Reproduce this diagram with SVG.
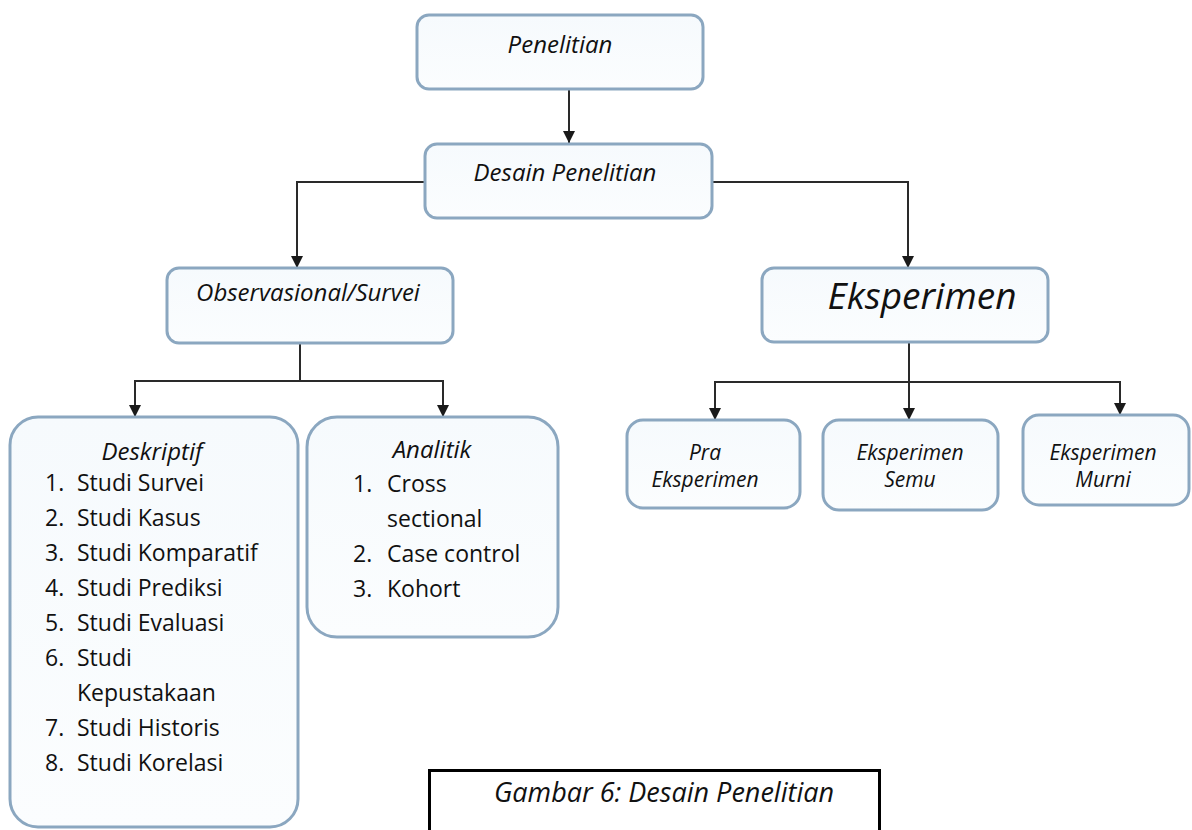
<svg xmlns="http://www.w3.org/2000/svg" width="1192" height="830" viewBox="0 0 1192 830">
<defs>
<marker id="arr" viewBox="0 0 12 12" refX="12" refY="6" markerWidth="12" markerHeight="12" markerUnits="userSpaceOnUse" orient="auto">
<path d="M0,0 L12,6 L0,12 Z" fill="#1a1a1a"/>
</marker>
<linearGradient id="fillg" x1="0" y1="0" x2="0" y2="1">
<stop offset="0" stop-color="#f6fafd"/>
<stop offset="1" stop-color="#fbfdfe"/>
</linearGradient>
</defs>
<style>
.box{fill:url(#fillg);stroke:#8ba7c0;stroke-width:3}
.lbl{font-family:"Open Sans","Liberation Sans",sans-serif;font-style:italic;fill:#111;text-anchor:middle}
.item{font-family:"Open Sans","Liberation Sans",sans-serif;font-size:23px;fill:#111}
.con{fill:none;stroke:#2a2a2a;stroke-width:2}
</style>
<rect width="1192" height="830" fill="#ffffff"/>
<g id="connectors">
<path class="con" d="M569,89 V143" marker-end="url(#arr)"/>
<path class="con" d="M425,182 H297 V268" marker-end="url(#arr)"/>
<path class="con" d="M712,182 H908 V268" marker-end="url(#arr)"/>
<path class="con" d="M300,343 V381"/>
<path class="con" d="M300,381 H135 V417" marker-end="url(#arr)"/>
<path class="con" d="M300,381 H443 V417" marker-end="url(#arr)"/>
<path class="con" d="M909,342 V420" marker-end="url(#arr)"/>
<path class="con" d="M909,382 H715 V420" marker-end="url(#arr)"/>
<path class="con" d="M909,382 H1120 V415" marker-end="url(#arr)"/>
</g>
<g id="penelitian">
<rect class="box" x="417" y="15" width="286" height="74" rx="12"/>
<text class="lbl" x="560" y="53" font-size="24">Penelitian</text>
</g>
<g id="desain">
<rect class="box" x="425" y="144" width="287" height="74" rx="12"/>
<text class="lbl" x="565" y="181" font-size="24">Desain Penelitian</text>
</g>
<g id="observasional">
<rect class="box" x="167" y="268" width="286" height="75" rx="12"/>
<text class="lbl" x="308" y="301" font-size="24">Observasional/Survei</text>
</g>
<g id="eksperimen">
<rect class="box" x="762" y="268" width="286" height="74" rx="12"/>
<text class="lbl" x="922" y="309" font-size="37">Eksperimen</text>
</g>
<g id="deskriptif">
<rect class="box" x="10" y="417" width="288" height="410" rx="28"/>
<text class="lbl" x="152" y="460" font-size="24">Deskriptif</text>
<g class="item">
<text x="45" y="491">1.</text><text x="77" y="491">Studi Survei</text>
<text x="45" y="526">2.</text><text x="77" y="526">Studi Kasus</text>
<text x="45" y="561">3.</text><text x="77" y="561">Studi Komparatif</text>
<text x="45" y="596">4.</text><text x="77" y="596">Studi Prediksi</text>
<text x="45" y="631">5.</text><text x="77" y="631">Studi Evaluasi</text>
<text x="45" y="666">6.</text><text x="77" y="666">Studi</text>
<text x="77" y="701">Kepustakaan</text>
<text x="45" y="736">7.</text><text x="77" y="736">Studi Historis</text>
<text x="45" y="771">8.</text><text x="77" y="771">Studi Korelasi</text>
</g>
</g>
<g id="analitik">
<rect class="box" x="307" y="417" width="251" height="220" rx="30"/>
<text class="lbl" x="432" y="458" font-size="24">Analitik</text>
<g class="item">
<text x="353" y="492">1.</text><text x="387" y="492">Cross</text>
<text x="387" y="527">sectional</text>
<text x="353" y="562">2.</text><text x="387" y="562">Case control</text>
<text x="353" y="597">3.</text><text x="387" y="597">Kohort</text>
</g>
</g>
<g id="pra">
<rect class="box" x="627" y="420" width="173" height="88" rx="16"/>
<text class="lbl" x="705" y="460" font-size="21">Pra</text>
<text class="lbl" x="705" y="487" font-size="21">Eksperimen</text>
</g>
<g id="semu">
<rect class="box" x="823" y="420" width="175" height="90" rx="16"/>
<text class="lbl" x="910" y="460" font-size="21">Eksperimen</text>
<text class="lbl" x="910" y="487" font-size="21">Semu</text>
</g>
<g id="murni">
<rect class="box" x="1023" y="415" width="166" height="90" rx="16"/>
<text class="lbl" x="1103" y="460" font-size="21">Eksperimen</text>
<text class="lbl" x="1103" y="487" font-size="21">Murni</text>
</g>
<g id="caption">
<path d="M429.5,832 V770.5 H879.5 V832" fill="#ffffff" stroke="#000" stroke-width="3"/>
<text class="lbl" x="664" y="802" font-size="27">Gambar 6: Desain Penelitian</text>
</g>
</svg>
